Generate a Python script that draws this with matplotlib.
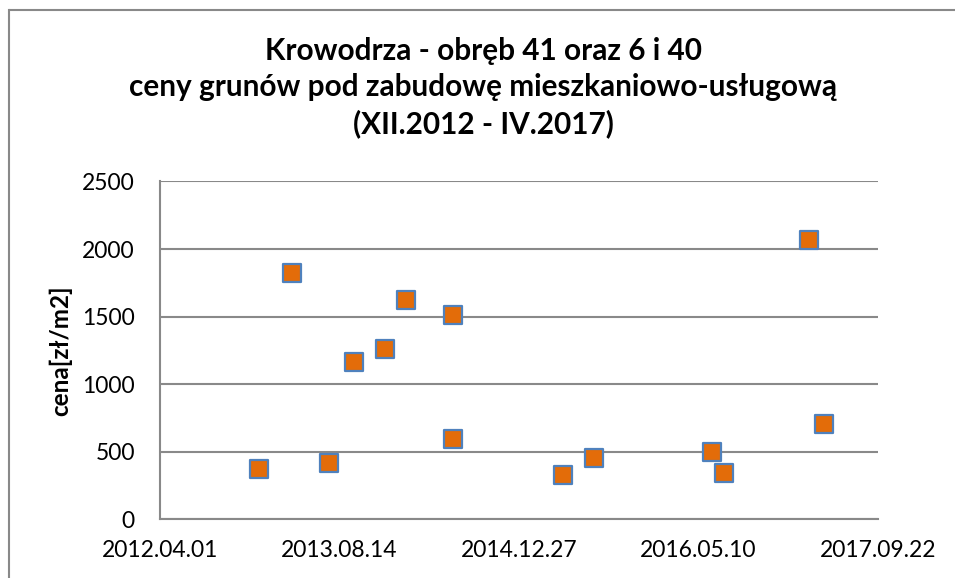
import matplotlib
matplotlib.use('Agg')
import matplotlib.pyplot as plt
import matplotlib.dates as mdates
from matplotlib.lines import Line2D
import numpy as np
import datetime as dt

# dane
daty = ['2013-01-02', '2013-04-04', '2013-07-17', '2013-09-24', '2013-12-20',
        '2014-02-15', '2014-06-26', '2014-06-26', '2015-04-30', '2015-07-24',
        '2016-06-16', '2016-07-20', '2017-03-16', '2017-04-26']
ceny = [374, 1820, 418, 1165, 1258, 1623, 1512, 593, 326, 452, 500, 344, 2067, 707]

x_ticks = ['2012-04-01', '2013-08-14', '2014-12-27', '2016-05-10', '2017-09-22']
y_ticks = [0, 500, 1000, 1500, 2000, 2500]

tytul = ('Krowodrza - obręb 41 oraz 6 i 40\n'
         'ceny grunów pod zabudowę mieszkaniowo-usługową\n'
         '(XII.2012 - IV.2017)')

plt.rcParams['font.family'] = ['Lato', 'DejaVu Sans']

x = [dt.datetime.strptime(d, '%Y-%m-%d') for d in daty]
xt = [dt.datetime.strptime(d, '%Y-%m-%d') for d in x_ticks]

fig = plt.figure(figsize=(9.55, 5.78), dpi=100)
ax = fig.add_axes([0.1675, 0.102, 0.7515, 0.584])

ax.scatter(x, ceny, marker='s', s=185, color='#E36C09', edgecolors='#4F81BD',
           linewidths=1.6, zorder=3)

ax.set_xlim(xt[0], xt[-1])
ax.set_ylim(0, 2500)
ax.set_xticks(xt)
ax.xaxis.set_major_formatter(mdates.DateFormatter('%Y.%m.%d'))
ax.set_yticks(y_ticks)
ax.grid(axis='y', color='#898989', linewidth=1.5)
ax.set_axisbelow(True)
for s in ['top', 'right']:
    ax.spines[s].set_visible(False)
for s in ['left', 'bottom']:
    ax.spines[s].set_color('#898989')
    ax.spines[s].set_linewidth(1.5)
ax.tick_params(length=0, labelsize=16.5, pad=15)
ax.tick_params(axis='y', pad=18)
ax.set_ylabel('cena[zł/m2]', fontsize=17.5, fontweight='bold', labelpad=7)

fig.text(0.506, 0.848, tytul, ha='center', va='center', fontsize=21.4,
         fontweight='bold', linespacing=1.35)

# ramka wykresu
fig.add_artist(Line2D([10 / 955, 1], [1 - 10 / 578] * 2, color='#898989', lw=1.5))
fig.add_artist(Line2D([9 / 955] * 2, [0, 1 - 10 / 578], color='#898989', lw=1.5))

fig.savefig('out.png', dpi=100)
